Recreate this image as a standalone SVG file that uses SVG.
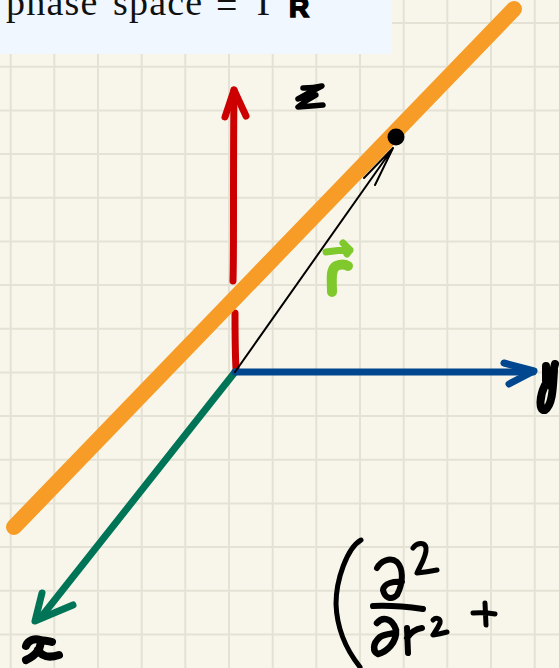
<svg xmlns="http://www.w3.org/2000/svg" width="559" height="668" viewBox="0 0 559 668">
<style>
.g{stroke:#e3e2d5;stroke-width:2;fill:none}
.ink{stroke:#000;fill:none;stroke-linecap:round;stroke-linejoin:round}
.c{fill:none;stroke-linecap:round;stroke-linejoin:round}
</style>
<rect width="559" height="668" fill="#f8f6ea"/>
<path class="g" d="M10.7 0V668M54.3 0V668M98 0V668M141.7 0V668M185.3 0V668M229 0V668M272.7 0V668M316.3 0V668M360 0V668M403.7 0V668M447.3 0V668M491 0V668M534.7 0V668M0 23H559M0 66.7H559M0 110.4H559M0 154H559M0 197.7H559M0 241.4H559M0 285H559M0 328.7H559M0 372.4H559M0 416H559M0 459.7H559M0 503.4H559M0 547H559M0 590.7H559M0 634.4H559"/>
<g id="panel"><rect x="0" y="0" width="392" height="54" fill="#f0f7ff"/>
<text y="15" font-family="'Liberation Serif',serif" font-size="38" fill="#111" letter-spacing="1.2"><tspan x="6">phase</tspan><tspan x="113">space</tspan><tspan x="216" y="18">=</tspan><tspan x="257" y="15">Γ</tspan></text>
<text x="289" y="17" font-family="'Liberation Sans',sans-serif" font-size="28" font-weight="700" fill="#000" stroke="#000" stroke-width="1.6">R</text></g>
<g id="connectors">
<path class="c" d="M236 369C235 350 235 330 235 313M233 281C234 250 233 180 234 90" stroke="#cc0000" stroke-width="7"/>
<path class="c" d="M225 117L234 90L246 116" stroke="#cc0000" stroke-width="7"/>
<path class="c" d="M14 527L514 9" stroke="#f79c26" stroke-width="16"/>
<path class="c" d="M235 372L42 616" stroke="#007456" stroke-width="7"/>
<path class="c" d="M42 593L35 621L73 605" stroke="#007456" stroke-width="7"/>
<path class="c" d="M235 372L533 372" stroke="#00478f" stroke-width="7"/>
<path class="c" d="M504 363L534 371L509 384" stroke="#00478f" stroke-width="7"/>
<path class="c" d="M235 372L393 148M364 178L393 148L375 185" stroke="#000" stroke-width="2"/>
</g>
<g id="point"><circle cx="396" cy="137" r="8.5" fill="#000"/></g>
<g id="label-r"><path class="c" d="M326 252Q338 250 350 250M343 243L350 250L347 254" stroke="#7fc92d" stroke-width="7"/><path class="c" d="M332 292C332 280 330 270 336 266Q343 263 348 266" stroke="#7fc92d" stroke-width="10"/></g>
<g id="label-z"><path class="ink" stroke-width="5.5" d="M303 88Q314 88 322 86Q310 92 298 99Q306 96 316 95Q306 100 298 107Q312 106 323 105"/></g>
<g id="label-x"><path class="ink" stroke-width="8" d="M26 646C28 640 35 638 40 640C46 641 49 641 52 642M40 640C42 647 37 655 26 660M38 650Q44 660 59 655"/></g>
<g id="label-y"><path class="ink" stroke-width="8" d="M546 366L546 381Q550 384 555 364M554 370C553 385 553 405 545 410C538 411 540 395 545 385C548 382 551 385 552 388"/></g>
<g id="formula">
<path class="ink" stroke-width="5" d="M361 540C347 548 336 580 336 604C337 632 348 652 360 667"/>
<path class="ink" stroke-width="6" d="M377 568C380 562 390 556 397 562C403 568 404 582 397 595C392 600 385 599 383 590C384 583 394 581 402 582"/>
<path class="ink" stroke-width="5" d="M413 548C416 543 425 541 426 548C427 556 420 566 417 573Q427 572 437 570"/>
<path class="ink" stroke-width="6" d="M373 606Q395 605 423 609"/>
<path class="ink" stroke-width="6.5" d="M377 623C382 617 392 617 396 630C397 642 387 652 378 654C373 652 372 644 380 637C385 634 390 634 395 633"/>
<path class="ink" stroke-width="6" d="M407 628L408 653M407 638C411 632 416 629 422 628"/>
<path class="ink" stroke-width="5" d="M433 620C436 617 441 618 440 623C438 628 435 632 433 635Q440 634 447 632"/>
<path class="ink" stroke-width="5" d="M473 613Q484 612 495 614M485 603L486 625"/>
</g>
</svg>
